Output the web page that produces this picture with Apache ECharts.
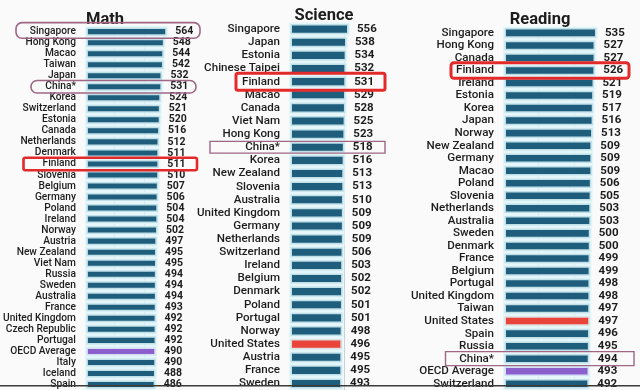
<!DOCTYPE html>
<html><head><meta charset="utf-8">
<script src="https://cdn.jsdelivr.net/npm/echarts@6/dist/echarts.min.js"></script>
<style>html,body{margin:0;padding:0;background:#fbfafb;}#c{width:640px;height:390px;}</style>
</head><body><div id="c"></div>
<script>
const mathCountries = ['Singapore','Hong Kong','Macao','Taiwan','Japan','China*','Korea','Switzerland','Estonia','Canada','Netherlands','Denmark','Finland','Slovenia','Belgium','Germany','Poland','Ireland','Norway','Austria','New Zealand','Viet Nam','Russia','Sweden','Australia','France','United Kingdom','Czech Republic','Portugal','OECD Average','Italy','Iceland','Spain'];
const mathScores = [564,548,544,542,532,531,524,521,520,516,512,511,511,510,507,506,504,504,502,497,495,495,494,494,494,493,492,492,492,490,490,488,486];

const scienceCountries = ['Singapore','Japan','Estonia','Chinese Taipei','Finland','Macao','Canada','Viet Nam','Hong Kong','China*','Korea','New Zealand','Slovenia','Australia','United Kingdom','Germany','Netherlands','Switzerland','Ireland','Belgium','Denmark','Poland','Portugal','Norway','United States','Austria','France','Sweden'];
const scienceScores = [556,538,534,532,531,529,528,525,523,518,516,513,513,510,509,509,509,506,503,502,502,501,501,498,496,495,495,493];

const readingCountries = ['Singapore','Hong Kong','Canada','Finland','Ireland','Estonia','Korea','Japan','Norway','New Zealand','Germany','Macao','Poland','Slovenia','Netherlands','Australia','Sweden','Denmark','France','Belgium','Portugal','United Kingdom','Taiwan','United States','Spain','Russia','China*','OECD Average','Switzerland'];
const readingScores = [535,527,527,526,521,519,517,516,513,509,509,509,506,505,503,503,500,500,499,499,498,498,497,497,496,495,494,493,492];

const titles = ['Math','Science','Reading'];

const BAR = '#1f5d7c', PURPLE = '#8b5fcc', RED = '#e8443a';
const BORDER = 'rgba(222,246,250,0.85)';
const TXT = '#1c1c1c';

function items(names, vals) {
  return vals.map((v, i) => {
    let c = BAR;
    if (names[i] === 'OECD Average') c = PURPLE;
    if (names[i] === 'United States') c = RED;
    return { value: v, itemStyle: { color: c } };
  });
}

const panels = [
  { names: mathCountries, vals: mathScores, left: 82, width: 91.5, max: 600, interval: 200, top: 26.1, band: 11.17, lab: 10.2, val: 10.5, tx: 100, ty: 6 },
  { names: scienceCountries, vals: scienceScores, left: 289, width: 109.7, max: 1000, interval: 500, top: 22.6, band: 13.17, lab: 11.6, val: 11.5, tx: 319, ty: 2 },
  { names: readingCountries, vals: readingScores, left: 503, width: 106.5, max: 600, interval: 200, top: 26.6, band: 12.76, lab: 11.6, val: 11.5, tx: 535, ty: 6 }
];

const chart = echarts.init(document.getElementById('c'), null, { renderer: 'canvas' });
const option = {
  animation: false,
  backgroundColor: '#fbfafb',
  title: panels.map((p, i) => ({
    text: titles[i], left: p.tx, top: p.ty, textAlign: 'center',
    textStyle: { fontFamily: 'Roboto', fontWeight: 'bold', fontSize: 16.5, color: TXT }
  })),
  grid: panels.map(p => ({ left: p.left, top: p.top, width: p.width, height: p.band * p.names.length, containLabel: false })),
  xAxis: panels.map((p, i) => ({
    type: 'value', gridIndex: i, min: 0, max: p.max, interval: p.interval,
    axisLabel: { show: false }, axisLine: { show: false }, axisTick: { show: false },
    splitLine: { show: true, showMaxLine: false, showMinLine: false, lineStyle: { color: '#c9d2d6', width: 1 } }
  })),
  yAxis: panels.map((p, i) => ({
    type: 'category', gridIndex: i, data: p.names, inverse: true,
    axisLine: { show: false }, axisTick: { show: false },
    axisLabel: { margin: 9, fontFamily: 'Roboto', fontWeight: 500, fontSize: p.lab, color: TXT, interval: 0 }
  })),
  series: panels.map((p, i) => ({
    type: 'bar', xAxisIndex: i, yAxisIndex: i,
    data: items(p.names, p.vals),
    barCategoryGap: '0%',
    itemStyle: { borderColor: BORDER, borderWidth: 3 },
    label: { show: true, position: 'right', distance: 7, fontFamily: 'Roboto', fontWeight: 'bold', fontSize: p.val, color: TXT },
    silent: true
  }))
};
chart.setOption(option);

// annotation boxes around highlighted rows
const boxes = [
  { axis: 0, name: 'Singapore', x1: 16, x2: 200, h: 15.6, dy: -1.2, color: '#9e6784', w: 1.6, r: 6 },
  { axis: 0, name: 'China*', x1: 31, x2: 196, h: 12.5, dy: 0, color: '#9e6784', w: 1.6, r: 6 },
  { axis: 0, name: 'Finland', x1: 23.5, x2: 197, h: 12.5, dy: 0, color: '#e32a2a', w: 2.6, r: 2 },
  { axis: 1, name: 'Finland', x1: 236, x2: 385, h: 17, dy: 0, color: '#e32a2a', w: 3, r: 2 },
  { axis: 1, name: 'China*', x1: 210, x2: 385, h: 11.8, dy: 0, color: '#9e6784', w: 1.4, r: 0 },
  { axis: 2, name: 'Finland', x1: 451, x2: 629, h: 15.5, dy: 0, color: '#e32a2a', w: 3, r: 3 },
  { axis: 2, name: 'China*', x1: 445.5, x2: 634, h: 14, dy: 0, color: '#9e6784', w: 1.4, r: 0 }
];
const graphics = boxes.map(b => {
  const y = chart.convertToPixel({ yAxisIndex: b.axis }, b.name) + b.dy;
  return {
    type: 'rect', z: 100, silent: true,
    shape: { x: b.x1, y: y - b.h / 2, width: b.x2 - b.x1, height: b.h, r: b.r },
    style: { fill: 'none', stroke: b.color, lineWidth: b.w }
  };
});
graphics.push({
  type: 'rect', z: 100, silent: true,
  shape: { x: 0, y: 385, width: 640, height: 1.6 },
  style: { fill: '#3a3a3a' }
});
chart.setOption({ graphic: graphics });
</script></body></html>
